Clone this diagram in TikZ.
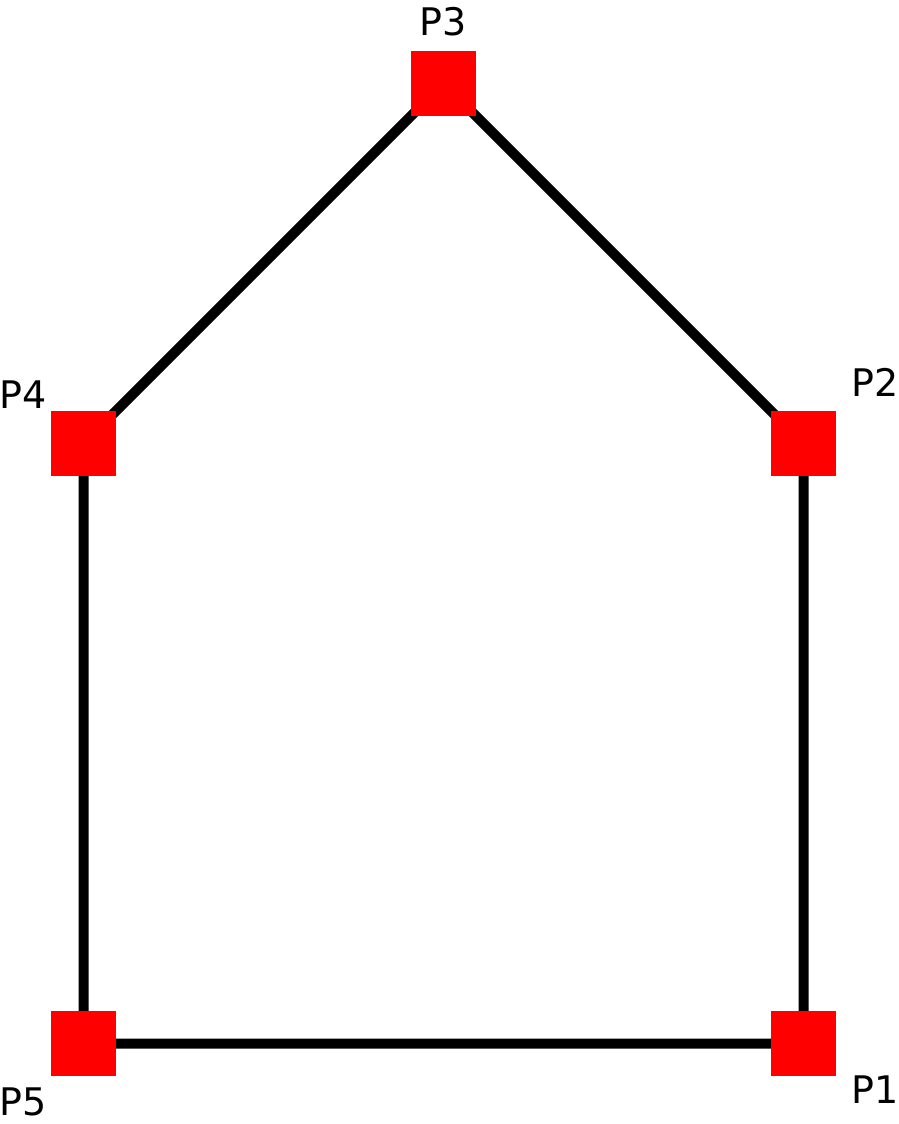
\documentclass[tikz,border=0pt]{standalone}
\usepackage{fontspec}
\setmainfont{DejaVu Sans}
\usetikzlibrary{backgrounds}
\begin{document}
\begin{tikzpicture}[x=1pt,y=-1pt,
  pt/.style={fill=red,draw=none,minimum size=65pt,inner sep=0pt,outer sep=0pt},
  lbl/.style={inner sep=0pt,font=\fontsize{38}{40}\selectfont},
  edge/.style={line width=10pt,black}]
\useasboundingbox (0,0) rectangle (899,1124);
\node[pt] (p1) at (803.5,1043.5) {};
\node[pt] (p2) at (803.5,443.5) {};
\node[pt] (p3) at (443.5,83.5) {};
\node[pt] (p4) at (83.5,443.5) {};
\node[pt] (p5) at (83.5,1043.5) {};
\node[lbl] (l1) at (875,1090) {P1};
\node[lbl] (l2) at (875,382) {P2};
\node[lbl] (l3) at (443,22) {P3};
\node[lbl] (l4) at (23,395) {P4};
\node[lbl] (l5) at (23,1102) {P5};
\begin{pgfonlayer}{background}
\draw[edge] (p1.center) -- (p2.center) -- (p3.center) -- (p4.center) -- (p5.center) -- (p1.center);
\end{pgfonlayer}
\end{tikzpicture}
\end{document}
